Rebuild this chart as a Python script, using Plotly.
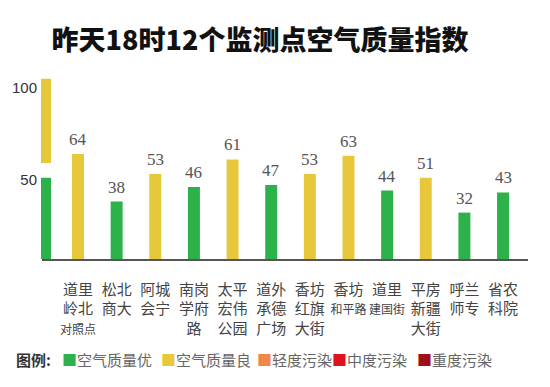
import plotly.graph_objects as go

title_text = "昨天18时12个监测点空气质量指数"

stations = [
    "道里<br>岭北<br><span style='font-size:12px'>对照点</span>",
    "松北<br>商大",
    "阿城<br>会宁",
    "南岗<br>学府<br>路",
    "太平<br>宏伟<br>公园",
    "道外<br>承德<br>广场",
    "香坊<br>红旗<br>大街",
    "香坊<br><span style='font-size:12px'>和平路</span>",
    "道里<br><span style='font-size:12px'>建国街</span>",
    "平房<br>新疆<br>大街",
    "呼兰<br>师专",
    "省农<br>科院",
]
aqi = [64, 38, 53, 46, 61, 47, 53, 63, 44, 51, 32, 43]

legend_title = "图例:"
grade_names = ["空气质量优", "空气质量良", "轻度污染", "中度污染", "重度污染"]
grade_limits = [50, 100, 150, 200, 300]
grade_colors = ["#2db24b", "#e7c83b", "#f0884a", "#e0121e", "#9e0f1d"]

# scale bar on the left (colour scale next to the y ticks)
scale_base = [0, 59]
scale_top = [51, 105]
scale_colors = ["#2db24b", "#e7c83b"]

y_ticks = [50, 100]


def grade_of(v):
    for i, lim in enumerate(grade_limits):
        if v <= lim:
            return i
    return len(grade_limits) - 1


W, H = 550, 387
fig = go.Figure()

for gi, (gname, gcol) in enumerate(zip(grade_names, grade_colors)):
    xs = [s for s, v in zip(stations, aqi) if grade_of(v) == gi]
    ys = [v for v in aqi if grade_of(v) == gi]
    if not xs:
        continue
    fig.add_trace(go.Bar(
        x=xs, y=ys, name=gname, marker=dict(color=gcol, line=dict(width=0)),
        width=0.31, showlegend=False, hoverinfo="x+y",
    ))

fig.add_trace(go.Bar(
    x=[0, 0],
    y=[t - b for t, b in zip(scale_top, scale_base)],
    base=scale_base,
    marker=dict(color=scale_colors, line=dict(width=0)),
    width=1, xaxis="x2", yaxis="y", showlegend=False, hoverinfo="skip",
))

for s, v in zip(stations, aqi):
    fig.add_annotation(
        x=s, y=v, text=str(v), showarrow=False, yanchor="bottom", yshift=3,
        font=dict(family="Liberation Serif", size=17, color="#555555"),
    )

# legend row (title + coloured squares with labels)
legend_y = 1 - 359 / H
fig.add_annotation(
    x=14 / W, y=legend_y, xref="paper", yref="paper", xanchor="left", yanchor="middle",
    text="<b>" + legend_title + "</b>", showarrow=False,
    font=dict(family="Noto Sans CJK SC", size=15, color="#333333"),
)
legend_x = [60, 159, 255, 330, 415]
for lx, gname, gcol in zip(legend_x, grade_names, grade_colors):
    fig.add_annotation(
        x=lx / W, y=legend_y, xref="paper", yref="paper", xanchor="left", yanchor="middle",
        text="<span style='color:%s'>■</span>%s" % (gcol, gname), showarrow=False,
        font=dict(family="Noto Sans CJK SC", size=15, color="#666666"),
    )

fig.update_layout(
    width=W, height=H,
    margin=dict(l=0, r=0, t=0, b=0, autoexpand=False),
    paper_bgcolor="white", plot_bgcolor="white",
    barmode="overlay",
    showlegend=False,
    title=dict(
        text=title_text, x=260 / W, xanchor="center", y=1 - 41 / H, yanchor="middle",
        font=dict(family="Noto Sans CJK SC", size=27, color="#111111", weight=900),
    ),
    xaxis=dict(
        type="category", categoryorder="array", categoryarray=stations,
        range=[-0.932, 11.646], domain=[42 / W, 528 / W],
        showline=True, linecolor="#555555", linewidth=1.5,
        showgrid=False, zeroline=False, ticks="", anchor="y",
        tickfont=dict(family="Noto Sans CJK SC", size=15, color="#444444"),
        ticklabelstandoff=16, automargin=False, fixedrange=True,
    ),
    xaxis2=dict(
        domain=[41 / W, 51 / W], range=[-0.5, 0.5], visible=False, anchor="y",
        fixedrange=True,
    ),
    yaxis=dict(
        range=[6.7, 115.2], domain=[128 / H, 327 / H],
        tickvals=y_ticks, ticktext=[str(t) for t in y_ticks],
        showgrid=False, zeroline=False, showline=False, ticks="",
        tickfont=dict(family="Liberation Sans", size=15, color="#333333"),
        ticklabelstandoff=4, automargin=False, fixedrange=True,
    ),
)

fig.write_html(
    "out.html",
    config={"displayModeBar": False},
    post_script="document.body.style.margin='0';document.body.style.overflow='hidden';",
)
